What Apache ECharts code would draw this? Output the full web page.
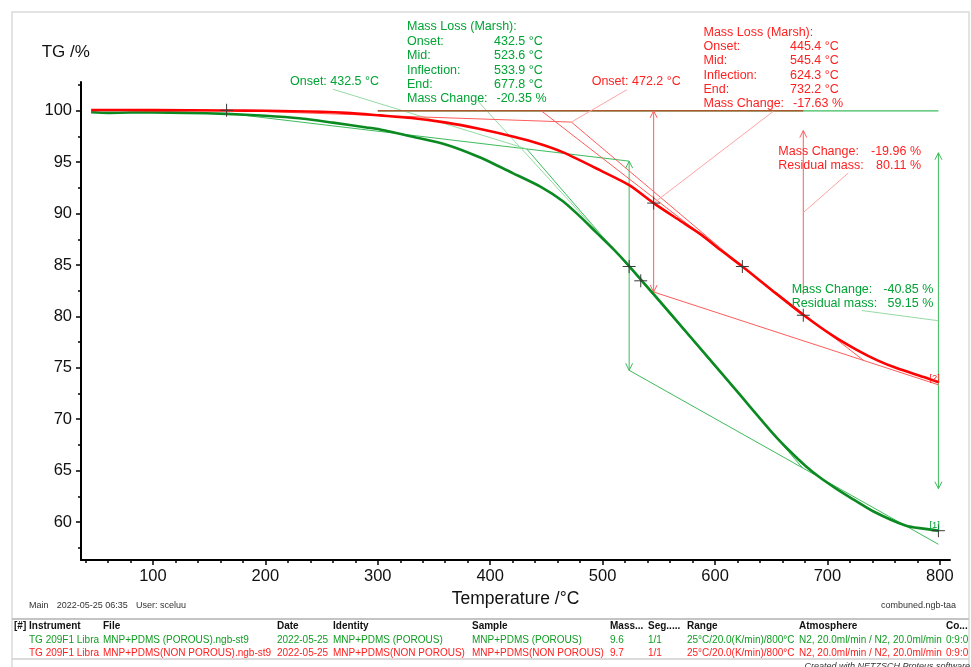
<!DOCTYPE html>
<html>
<head>
<meta charset="utf-8">
<script src="https://cdn.jsdelivr.net/npm/echarts@6/dist/echarts.min.js"></script>
<style>
html,body{margin:0;padding:0;background:#fff;}
#chart{width:971px;height:667px;}
</style>
</head>
<body>
<div id="chart"></div>
<script>
// ---- TG curves (temperature °C, mass %) ----
const porousT  = [45, 60, 80, 100, 130, 165, 200, 230, 260, 290, 302, 330, 361, 390, 420, 445, 465, 480, 495, 510, 524, 535, 560, 593, 620, 652, 666, 680, 693, 707, 720, 741, 770, 785, 799];
const porousTG = [99.86, 99.80, 99.83, 99.83, 99.80, 99.70, 99.52, 99.28, 98.85, 98.38, 98.18, 97.50, 96.70, 95.50, 93.94, 92.60, 91.18, 89.70, 88.10, 86.50, 84.85, 83.46, 80.32, 76.10, 72.65, 68.55, 66.95, 65.50, 64.35, 63.30, 62.40, 61.02, 59.63, 59.35, 59.15];

const nonPorousT  = [45, 100, 165, 200, 250, 272, 302, 330, 361, 390, 420, 445, 465, 498, 524, 545.4, 569, 587, 605, 624.3, 650, 679, 705, 726, 745, 762, 787, 799];
const nonPorousTG = [100.08, 100.06, 100.03, 100.0, 99.9, 99.8, 99.55, 99.3, 98.85, 98.25, 97.5, 96.75, 95.95, 94.2, 92.75, 91.02, 89.3, 88.0, 86.45, 84.85, 82.6, 80.11, 78.1, 76.75, 75.7, 74.95, 74.05, 73.6];

// ---- axis ticks ----
const xTicks = [100, 200, 300, 400, 500, 600, 700, 800];
const xMinorTicks = [40, 60, 80, 120, 140, 160, 180, 220, 240, 260, 280, 320, 340, 360, 380, 420, 440, 460, 480, 520, 540, 560, 580, 620, 640, 660, 680, 720, 740, 760, 780];
const yTicks = [60, 65, 70, 75, 80, 85, 90, 95, 100];
const yMinorTicks = [57.5, 62.5, 67.5, 72.5, 77.5, 82.5, 87.5, 92.5, 97.5, 102.5];

// ---- evaluation results ----
const marshNames = ['Onset:', 'Mid:', 'Inflection:', 'End:', 'Mass Change:'];
const porousMarsh = [432.5, 523.6, 533.9, 677.8, -20.35];
const nonPorousMarsh = [445.4, 545.4, 624.3, 732.2, -17.63];
const porousOnset = 432.5;
const nonPorousOnset = 472.2;
const porousStep = [-40.85, 59.15];     // mass change, residual mass
const nonPorousStep = [-19.96, 80.11];

// ---- construction lines (°C, %) ----
const porousBaseline   = [[165.5, 99.76], [porousMarsh[1], 95.1]];
const porousTangent    = [[porousOnset, 96.29], [porousMarsh[3], 65.26]];
const porousEndTangent = [[porousMarsh[1], 74.75], [798.7, 57.83]];
const porousRef100     = [[300, 100], [798.7, 100]];
const porousMarshArrow = [[porousMarsh[1], 95.1], [porousMarsh[1], 74.75]];
// step arrow spans the mass change, trimmed by 10 % at both ends
const porousStepArrow  = [[798.7, 100 + 0.1 * porousStep[0]], [798.7, porousStep[1] - 0.1 * porousStep[0]]];
const porousOnsetLead  = [[260, 102.1], [porousOnset, 96.29]];
const porousMarshLead  = [[388, 101.07], [porousMarsh[1], 84.85]];
const porousStepLead   = [[730.5, 80.57], [798.7, (100 + porousStep[1]) / 2]];

const npRef100      = [[300, 100], [678.5, 100]];
const npBaseline    = [[165.5, 100.05], [nonPorousOnset, 98.9]];
const npOnsetTan    = [[nonPorousOnset, 98.9], [nonPorousMarsh[2], 84.85]];
const npMarshTan    = [[nonPorousMarsh[0], 100], [nonPorousMarsh[3], 75.71]];
const npEndTangent  = [[nonPorousMarsh[1], 100 + nonPorousMarsh[4]], [798.7, 73.34]];
const npMarshArrow  = [[nonPorousMarsh[1], 100], [nonPorousMarsh[1], 100 + nonPorousMarsh[4]]];
const npStepArrow   = [[678.5, nonPorousStep[1] - 0.9 * nonPorousStep[0]], [678.5, nonPorousStep[1] - 0.1 * nonPorousStep[0]]];
const npOnsetLead   = [[521.4, 102.04], [nonPorousOnset, 98.9]];
const npMarshLead   = [[651.6, 99.93], [nonPorousMarsh[1], 91.02]];
const npStepLead    = [[718.5, 93.94], [678.5, 90.09]];

// evaluation points marked with crosses
const crossPoints = [
  [165.5, 100.05],
  [porousMarsh[1], 84.85], [porousMarsh[2], 83.46],
  [nonPorousMarsh[1], 91.02], [nonPorousMarsh[2], 84.85],
  [678.5, nonPorousStep[1]], [798.7, porousStep[1]]
];

// ---- info table ----
const tableHead = ['[#] Instrument', 'File', 'Date', 'Identity', 'Sample', 'Mass...', 'Seg.....', 'Range', 'Atmosphere', 'Co...'];
const rowPorous = ['TG 209F1 Libra', 'MNP+PDMS (POROUS).ngb-st9', '2022-05-25', 'MNP+PDMS (POROUS)', 'MNP+PDMS (POROUS)', '9.6', '1/1', '25°C/20.0(K/min)/800°C', 'N2, 20.0ml/min / N2, 20.0ml/min', '0:9:0'];
const rowNonPorous = ['TG 209F1 Libra', 'MNP+PDMS(NON POROUS).ngb-st9', '2022-05-25', 'MNP+PDMS(NON POROUS)', 'MNP+PDMS(NON POROUS)', '9.7', '1/1', '25°C/20.0(K/min)/800°C', 'N2, 20.0ml/min / N2, 20.0ml/min', '0:9:0'];

// ---- styling ----
const FONT = 'Liberation Sans, Arial, sans-serif';
const GREEN_CURVE = '#0b8a22';
const RED_CURVE = '#ff0000';
const GREEN_LINE = '#3dbb5c';
const GREEN_LEAD = '#95dba4';
const RED_LINE = '#ff5c5c';
const RED_LEAD = '#ffa3a3';
const BROWN_LINE = '#b0562e';
const GREEN_TEXT = '#00a334';
const RED_TEXT = '#ff1f1f';

const zip = (a, b) => a.map((v, i) => [v, b[i]]);

function seg(pts, color, width, z) {
  return { type: 'line', data: pts, symbol: 'none', silent: true, animation: false,
    z: z || 2, lineStyle: { color: color, width: width } };
}
// open chevron arrow heads, tip placed on the data point
function heads(pts, color, up) {
  return { type: 'scatter', data: pts, silent: true, animation: false, z: 3,
    symbol: up ? 'path://M0,10 L5,0 L10,10' : 'path://M0,0 L5,10 L10,0',
    symbolSize: [7, 7], symbolOffset: [0, up ? 3.5 : -3.5],
    itemStyle: { color: 'transparent', borderColor: color, borderWidth: 1, opacity: 1 } };
}

function txt(x, y, s, color, size, align, extra) {
  return Object.assign({ type: 'text', silent: true, z: 10,
    style: { x: x, y: y, text: s, fill: color, fontSize: size, fontFamily: FONT,
      textAlign: align || 'left', align: align || 'left',
      textVerticalAlign: 'middle', verticalAlign: 'middle' } }, extra || {});
}

const graphics = [];
// outer frame and table rules
graphics.push({ type: 'rect', silent: true, z: 0, shape: { x: 12, y: 12, width: 957, height: 700 },
  style: { fill: 'none', stroke: '#e3e3e3', lineWidth: 2 } });
graphics.push({ type: 'line', silent: true, z: 0, shape: { x1: 12, y1: 619, x2: 969, y2: 619 },
  style: { stroke: '#c4c4c4', lineWidth: 2 } });
graphics.push({ type: 'line', silent: true, z: 0, shape: { x1: 12, y1: 659, x2: 969, y2: 659 },
  style: { stroke: '#cfcfcf', lineWidth: 1.5 } });

// axis title
graphics.push(txt(41.7, 52.5, 'TG /%', '#111', 17));

// Marsh evaluation blocks
const fmtMarsh = (v, i) => i < 4 ? v.toFixed(1) + ' °C' : v.toFixed(2) + ' %';
graphics.push(txt(407, 27, 'Mass Loss (Marsh):', GREEN_TEXT, 12.5));
marshNames.forEach((n, i) => {
  const y = 41.4 + i * 14.4;
  graphics.push(txt(407, y, n, GREEN_TEXT, 12.5));
  graphics.push(txt(i < 4 ? 494 : 496.5, y, fmtMarsh(porousMarsh[i], i), GREEN_TEXT, 12.5));
});
graphics.push(txt(703.5, 32.3, 'Mass Loss (Marsh):', RED_TEXT, 12.5));
marshNames.forEach((n, i) => {
  const y = 46.6 + i * 14.35;
  graphics.push(txt(703.5, y, n, RED_TEXT, 12.5));
  graphics.push(txt(i < 4 ? 790 : 793, y, fmtMarsh(nonPorousMarsh[i], i), RED_TEXT, 12.5));
});

// onset labels
graphics.push(txt(290, 81.7, 'Onset: ' + porousOnset.toFixed(1) + ' °C', GREEN_TEXT, 12.5));
graphics.push(txt(591.7, 81.7, 'Onset: ' + nonPorousOnset.toFixed(1) + ' °C', RED_TEXT, 12.5));

// step labels
graphics.push(txt(778.3, 151.7, 'Mass Change:', RED_TEXT, 12.5));
graphics.push(txt(921, 151.7, nonPorousStep[0].toFixed(2) + ' %', RED_TEXT, 12.5, 'right'));
graphics.push(txt(778.3, 165.9, 'Residual mass:', RED_TEXT, 12.5));
graphics.push(txt(921, 165.9, nonPorousStep[1].toFixed(2) + ' %', RED_TEXT, 12.5, 'right'));
graphics.push(txt(791.7, 289.3, 'Mass Change:', GREEN_TEXT, 12.5));
graphics.push(txt(933.3, 289.3, porousStep[0].toFixed(2) + ' %', GREEN_TEXT, 12.5, 'right'));
graphics.push(txt(791.7, 303.5, 'Residual mass:', GREEN_TEXT, 12.5));
graphics.push(txt(933.3, 303.5, porousStep[1].toFixed(2) + ' %', GREEN_TEXT, 12.5, 'right'));

// curve tags
graphics.push(txt(940, 378, '[2]', RED_TEXT, 9.5, 'right'));
graphics.push(txt(940, 525, '[1]', GREEN_TEXT, 9.5, 'right'));

// footer
graphics.push(txt(29, 606, 'Main', '#333', 9));
graphics.push(txt(56.7, 606, '2022-05-25 06:35', '#333', 9));
graphics.push(txt(136, 606, 'User: sceluu', '#333', 9));
graphics.push(txt(956, 606, 'combuned.ngb-taa', '#333', 9, 'right'));

// table
const colX = [14, 103, 277, 333, 472, 610, 648, 687, 799, 946];
tableHead.forEach((h, i) => {
  const t = txt(colX[i], 626, h, '#111', 10);
  t.style.fontWeight = 'bold';
  graphics.push(t);
});
rowPorous.forEach((s, i) => graphics.push(txt(i === 0 ? 29 : colX[i], 640, s, '#109c22', 10)));
rowNonPorous.forEach((s, i) => graphics.push(txt(i === 0 ? 29 : colX[i], 653.5, s, '#ff2020', 10)));
{
  const t = txt(970, 666, 'Created with NETZSCH Proteus software', '#333', 9, 'right');
  t.style.fontStyle = 'italic';
  graphics.push(t);
}

const X_MIN = 36, X_MAX = 809, Y_MIN = 56.3, Y_MAX = 102.8;

const option = {
  animation: false,
  backgroundColor: '#ffffff',
  grid: { left: 81, right: 21, top: 82, bottom: 107, containLabel: false },
  xAxis: [
    { type: 'value', min: X_MIN, max: X_MAX, position: 'bottom',
      name: 'Temperature /°C', nameLocation: 'middle', nameGap: 25,
      nameTextStyle: { fontSize: 17.5, color: '#111', fontFamily: FONT },
      axisLine: { show: true, onZero: false, lineStyle: { color: '#000', width: 2 } },
      axisTick: { show: true, inside: false, length: 5, customValues: xTicks, lineStyle: { color: '#000', width: 1.5 } },
      axisLabel: { show: true, customValues: xTicks, fontSize: 16.5, color: '#111', fontFamily: FONT, margin: 8 },
      splitLine: { show: false } },
    { type: 'value', min: X_MIN, max: X_MAX, position: 'bottom', gridIndex: 0,
      axisLine: { show: false, onZero: false },
      axisTick: { show: true, inside: false, length: 3, customValues: xMinorTicks, lineStyle: { color: '#000', width: 1.5 } },
      axisLabel: { show: false }, splitLine: { show: false } }
  ],
  yAxis: [
    { type: 'value', min: Y_MIN, max: Y_MAX, position: 'left',
      axisLine: { show: true, onZero: false, lineStyle: { color: '#000', width: 2 } },
      axisTick: { show: true, inside: false, length: 5, customValues: yTicks, lineStyle: { color: '#000', width: 1.5 } },
      axisLabel: { show: true, customValues: yTicks, fontSize: 16.5, color: '#111', fontFamily: FONT, margin: 9 },
      splitLine: { show: false } },
    { type: 'value', min: Y_MIN, max: Y_MAX, position: 'left', gridIndex: 0,
      axisLine: { show: false, onZero: false },
      axisTick: { show: true, inside: false, length: 3, customValues: yMinorTicks, lineStyle: { color: '#000', width: 1.5 } },
      axisLabel: { show: false }, splitLine: { show: false } }
  ],
  graphic: graphics,
  series: [
    // porous evaluation
    seg(porousRef100, GREEN_LINE, 1.2),
    seg(porousBaseline, GREEN_LINE, 1),
    seg(porousTangent, GREEN_LINE, 1),
    seg(porousEndTangent, GREEN_LINE, 1),
    seg(porousMarshArrow, GREEN_LINE, 1),
    seg(porousStepArrow, GREEN_LINE, 1),
    seg(porousOnsetLead, GREEN_LEAD, 1),
    seg(porousMarshLead, GREEN_LEAD, 1),
    seg(porousStepLead, GREEN_LEAD, 1),
    heads([porousMarshArrow[0], porousStepArrow[0]], GREEN_LINE, true),
    heads([porousMarshArrow[1], porousStepArrow[1]], GREEN_LINE, false),
    // non-porous evaluation
    seg(npRef100, BROWN_LINE, 1.5),
    seg(npBaseline, RED_LINE, 1),
    seg(npOnsetTan, RED_LINE, 1),
    seg(npMarshTan, RED_LINE, 1),
    seg(npEndTangent, RED_LINE, 1),
    seg(npMarshArrow, RED_LINE, 1),
    seg(npStepArrow, RED_LINE, 1),
    seg(npOnsetLead, RED_LEAD, 1),
    seg(npMarshLead, RED_LEAD, 1),
    seg(npStepLead, RED_LEAD, 1),
    heads([npMarshArrow[0], npStepArrow[0]], RED_LINE, true),
    heads([npMarshArrow[1]], RED_LINE, false),
    // TG curves
    { name: 'MNP+PDMS (POROUS)', type: 'line', data: zip(porousT, porousTG), showSymbol: false,
      smooth: 0.25, silent: true, z: 5, lineStyle: { color: GREEN_CURVE, width: 2.6 } },
    { name: 'MNP+PDMS(NON POROUS)', type: 'line', data: zip(nonPorousT, nonPorousTG), showSymbol: false,
      smooth: 0.25, silent: true, z: 5, lineStyle: { color: RED_CURVE, width: 2.6 } },
    // evaluation crosses
    { type: 'scatter', data: crossPoints, silent: true, z: 6,
      symbol: 'path://M0,5 L10,5 M5,0 L5,10', symbolSize: 13,
      itemStyle: { color: 'transparent', borderColor: '#3a3a3a', borderWidth: 1, opacity: 1 } }
  ]
};

const chart = echarts.init(document.getElementById('chart'), null, { renderer: 'canvas' });
chart.setOption(option);
</script>
</body>
</html>
